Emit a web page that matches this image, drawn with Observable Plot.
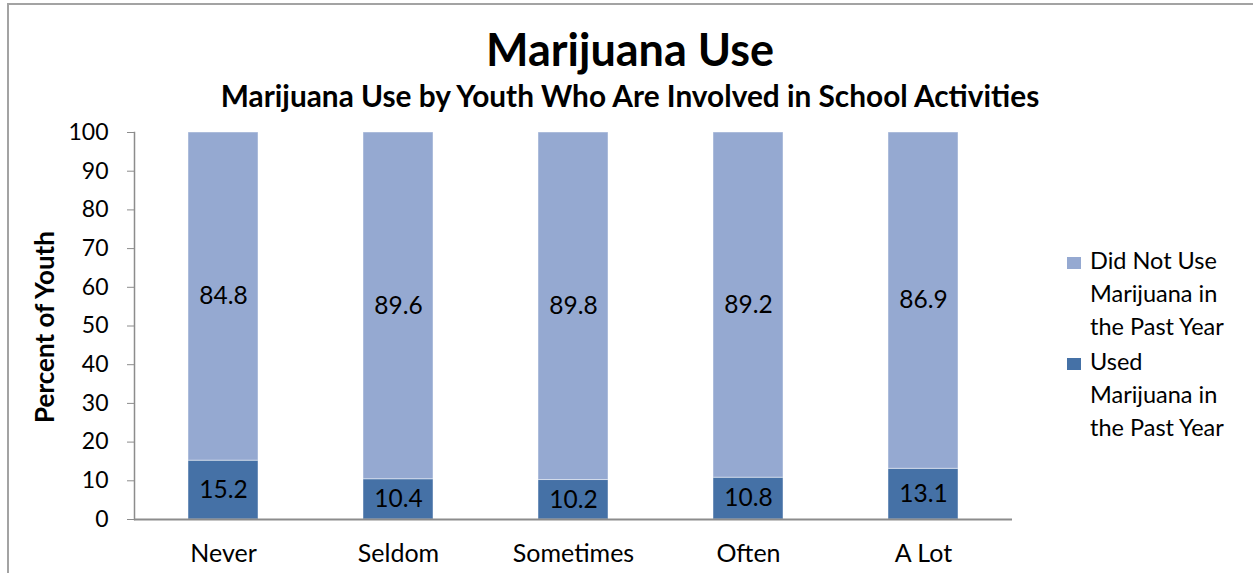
<!DOCTYPE html>
<html>
<head>
<meta charset="utf-8">
<script src="https://cdn.jsdelivr.net/npm/d3@7"></script>
<script src="https://cdn.jsdelivr.net/npm/@observablehq/plot@0.6"></script>
<style>
  html, body { margin: 0; padding: 0; background: #fff; }
  #wrap { position: relative; width: 1253px; height: 573px; overflow: hidden; font-family: Lato, "DejaVu Sans", sans-serif; color: #000; }
  #frame { position: absolute; left: 7px; top: 3px; width: 1300px; height: 600px; border-top: 2px solid #a3a3a3; border-left: 2px solid #a3a3a3; }
  #chart { position: absolute; left: 0; top: 0; }
  .title { position: absolute; left: 0; width: 1260px; text-align: center; font-weight: bold; line-height: 1; white-space: nowrap; }
  #ylabel { position: absolute; left: 44px; top: 327px; transform: translate(-50%, -50%) rotate(-90deg); font-weight: bold; font-size: 26px; white-space: nowrap; line-height: 1; }
  #legend { position: absolute; left: 1067px; top: 244px; }
  .item { display: flex; align-items: flex-start; margin-bottom: 2px; }
  .sw { width: 14px; height: 12px; margin-top: 13px; margin-right: 9px; flex: none; }
  .lt { width: 145px; font-size: 23.5px; line-height: 33px; }
</style>
</head>
<body>
<div id="wrap">
  <div id="frame"></div>
  <div id="chart"></div>
  <div class="title" id="t1" style="font-size:45px; top:27px;"></div>
  <div class="title" id="t2" style="font-size:29.8px; top:81px;"></div>
  <div id="ylabel"></div>
  <div id="legend"></div>
</div>
<script>
const titleText = "Marijuana Use";
const subtitleText = "Marijuana Use by Youth Who Are Involved in School Activities";
const yLabelText = "Percent of Youth";
const categories = ["Never", "Seldom", "Sometimes", "Often", "A Lot"];
const usedValues = [15.2, 10.4, 10.2, 10.8, 13.1];
const notUsedValues = [84.8, 89.6, 89.8, 89.2, 86.9];
const seriesNames = ["Used Marijuana in the Past Year", "Did Not Use Marijuana in the Past Year"];
const seriesColors = ["#4571a6", "#95a9d1"];
const yTicks = [0, 10, 20, 30, 40, 50, 60, 70, 80, 90, 100];

const data = categories.flatMap((c, i) => [
  {category: c, series: seriesNames[0], value: usedValues[i]},
  {category: c, series: seriesNames[1], value: notUsedValues[i]}
]);

document.getElementById("t1").textContent = titleText;
document.getElementById("t2").textContent = subtitleText;
document.getElementById("ylabel").textContent = yLabelText;

const legend = document.getElementById("legend");
[1, 0].forEach(k => {
  const item = document.createElement("div");
  item.className = "item";
  const sw = document.createElement("div");
  sw.className = "sw";
  sw.style.background = seriesColors[k];
  const lt = document.createElement("div");
  lt.className = "lt";
  lt.textContent = seriesNames[k];
  item.appendChild(sw);
  item.appendChild(lt);
  legend.appendChild(item);
});

const chart = Plot.plot({
  width: 1040,
  height: 573,
  marginLeft: 134,
  marginRight: 28,
  marginTop: 132,
  marginBottom: 54,
  style: {fontFamily: "Lato, sans-serif", fontSize: "23px", background: "transparent", color: "#000"},
  x: {domain: categories, paddingInner: 0.6, paddingOuter: 0.3, label: null},
  y: {domain: [0, 100], ticks: yTicks, label: null},
  color: {domain: seriesNames, range: seriesColors},
  marks: [
    Plot.barY(data, Plot.stackY({x: "category", y: "value", fill: "series", stroke: "#ffffff", strokeOpacity: 0.45, strokeWidth: 1})),
    Plot.text(data, Plot.stackY({x: "category", y: "value", z: "series", text: d => d.value.toFixed(1), fill: "#000", fontSize: 24.5})),
    Plot.frame({anchor: "left", stroke: "#8c8c8c", strokeWidth: 1.5}),
    Plot.ruleY([0], {stroke: "#8c8c8c", strokeWidth: 2}),
    Plot.axisY(yTicks, {tickSize: 7, tickPadding: 19, stroke: "#8c8c8c", fill: "#000", label: null}),
    Plot.axisX({tickSize: 0, tickPadding: 25, fill: "#000", fontSize: 25, label: null})
  ]
});
document.getElementById("chart").appendChild(chart);
</script>
</body>
</html>
